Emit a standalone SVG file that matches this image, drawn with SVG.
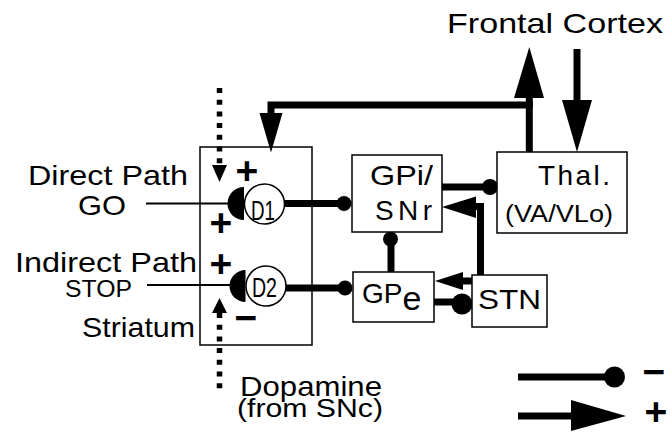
<svg xmlns="http://www.w3.org/2000/svg" width="672" height="440" viewBox="0 0 672 440">
<style>
text{font-family:"Liberation Sans",Arial,sans-serif;fill:#000}
.box{fill:#fff;stroke:#000;stroke-width:1.5}
.thick{fill:none;stroke:#000;stroke-width:7;stroke-linecap:butt;stroke-linejoin:miter}
.thin{fill:none;stroke:#000;stroke-width:2}
.dot{fill:#000}
.dash{fill:none;stroke:#000;stroke-width:5.5;stroke-dasharray:5 6.7}
.sign{font-weight:bold;font-size:39px;text-anchor:middle}
.lbl{font-size:28px}
</style>
<rect width="672" height="440" fill="#fff"/>
<g id="striatum">
<rect class="box" x="200" y="147" width="112" height="198"/>
<text class="lbl" x="82" y="337" font-size="26" textLength="113" lengthAdjust="spacingAndGlyphs">Striatum</text>
</g>
<g id="connectors">
<path class="dash" d="M219.5,88 V164"/>
<polygon points="212,165 227,165 219.5,182"/>
<path class="dash" d="M219.5,313 V393"/>
<polygon points="212,313 227,313 219.5,298"/>
<line class="thin" x1="146" y1="203.5" x2="229" y2="203.5"/>
<line class="thin" x1="147" y1="285" x2="230" y2="285"/>
<line class="thick" x1="284" y1="203.5" x2="344" y2="203.5"/>
<circle class="dot" cx="344" cy="203.5" r="7.5"/>
<line class="thick" x1="285" y1="288" x2="345" y2="288"/>
<circle class="dot" cx="345" cy="288" r="7.5"/>
<line class="thick" x1="391" y1="272" x2="391" y2="239"/>
<circle class="dot" cx="390.5" cy="239" r="7.5"/>
<line class="thick" x1="442" y1="187" x2="490" y2="187" stroke-width="8"/>
<circle class="dot" cx="490" cy="187" r="8"/>
<path class="thick" stroke-width="8" d="M480.5,275 V206.5 H470"/>
<polygon points="442,207 476,196.5 476,218"/>
<line class="thick" stroke-width="8" x1="472" y1="281" x2="460" y2="281"/>
<polygon points="435,281 463,272 463,290"/>
<line class="thick" stroke-width="8" x1="434" y1="302" x2="462" y2="302"/>
<circle class="dot" cx="462" cy="304" r="10.5"/>
<line class="thick" x1="529.3" y1="152" x2="529.3" y2="97"/>
<polygon points="514,98 544,98 529.3,47"/>
<path class="thick" d="M532.8,105 H271 V114"/>
<polygon points="259.5,113 282.5,113 271,152.5"/>
<line class="thick" x1="577" y1="49" x2="577" y2="101"/>
<polygon points="562,100 592,100 577,152"/>
</g>
<g id="gpi">
<rect class="box" x="352" y="155" width="90" height="77"/>
<text class="lbl" x="370" y="185" textLength="63" lengthAdjust="spacingAndGlyphs">GPi/</text>
<text class="lbl" x="375" y="220" textLength="57" lengthAdjust="spacing">SNr</text>
</g>
<g id="gpe">
<rect class="box" x="353" y="272" width="81" height="50"/>
<text class="lbl" x="362" y="303" font-size="30">GP<tspan dy="7" font-size="34">e</tspan></text>
</g>
<g id="stn">
<rect class="box" x="472" y="275" width="75" height="52"/>
<text class="lbl" x="478" y="309" font-size="30" textLength="63" lengthAdjust="spacingAndGlyphs">STN</text>
</g>
<g id="thal">
<rect class="box" x="497" y="152" width="130" height="81"/>
<text class="lbl" x="538" y="185" font-size="30" textLength="72" lengthAdjust="spacing">Thal.</text>
<text x="505" y="222" font-size="23" textLength="108" lengthAdjust="spacingAndGlyphs">(VA/VLo)</text>
</g>
<g id="d1">
<path d="M244,187 A16.5,16.5 0 0 0 244,220 Z"/>
<circle cx="264.5" cy="204" r="20" fill="#fff" stroke="#000" stroke-width="1.5"/>
<text x="251" y="220" font-size="27" textLength="24" lengthAdjust="spacingAndGlyphs">D1</text>
</g>
<g id="d2">
<path d="M245.5,270 A16,16 0 0 0 245.5,302 Z"/>
<circle cx="266" cy="286" r="20" fill="#fff" stroke="#000" stroke-width="1.5"/>
<text x="252" y="297" font-size="27" textLength="25" lengthAdjust="spacingAndGlyphs">D2</text>
</g>
<g id="labels">
<text class="lbl" x="447" y="33" textLength="216" lengthAdjust="spacingAndGlyphs">Frontal Cortex</text>
<text class="lbl" x="28" y="185" textLength="160" lengthAdjust="spacingAndGlyphs">Direct Path</text>
<text class="lbl" x="78" y="215" textLength="48" lengthAdjust="spacingAndGlyphs">GO</text>
<text class="lbl" x="15" y="272" textLength="182" lengthAdjust="spacingAndGlyphs">Indirect Path</text>
<text x="65" y="297" font-size="23" textLength="67" lengthAdjust="spacingAndGlyphs">STOP</text>
<text class="lbl" x="240" y="396" textLength="142" lengthAdjust="spacingAndGlyphs">Dopamine</text>
<text x="237" y="417" font-size="26" textLength="146" lengthAdjust="spacingAndGlyphs">(from SNc)</text>
<text class="sign" x="247" y="184">+</text>
<text class="sign" x="221" y="236">+</text>
<text class="sign" x="221" y="277">+</text>
<text class="sign" x="246" y="331">−</text>
</g>
<g id="legend">
<line class="thick" stroke-width="8" x1="518" y1="377" x2="614" y2="377"/>
<circle class="dot" cx="614.5" cy="377" r="10.5"/>
<line class="thick" stroke-width="8.5" x1="518" y1="416" x2="573" y2="416"/>
<polygon points="571,400 571,431 626,416"/>
<text class="sign" x="654" y="385">−</text>
<text class="sign" x="656" y="425">+</text>
</g>
</svg>
